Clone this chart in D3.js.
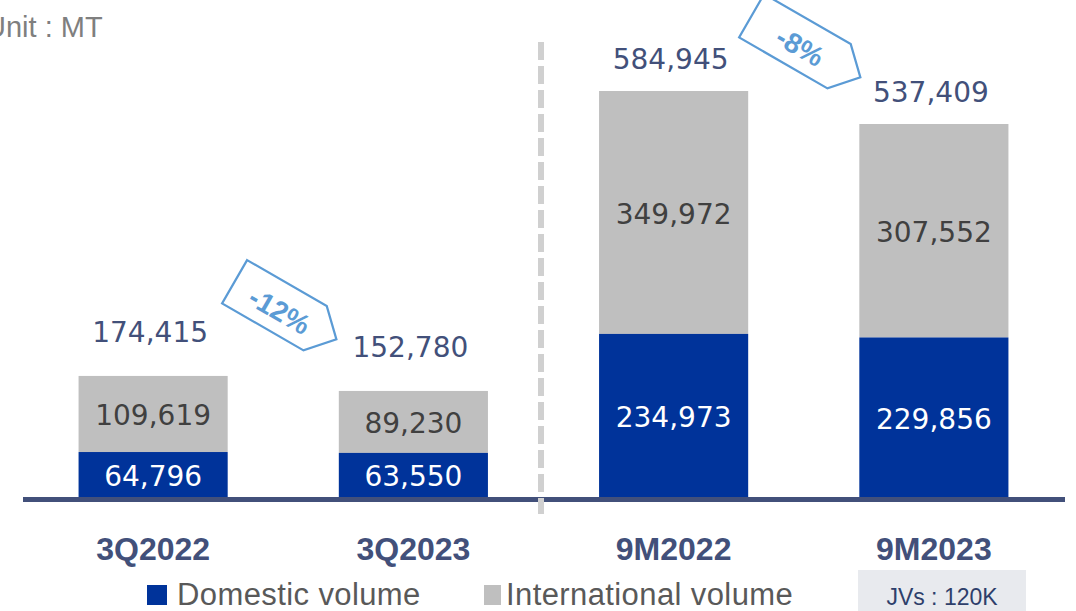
<!DOCTYPE html>
<html>
<head>
<meta charset="utf-8">
<script src="https://cdn.jsdelivr.net/npm/d3@7"></script>
<style>
  html, body { margin: 0; padding: 0; background: #ffffff; }
  svg { display: block; font-family: "Liberation Sans", Arial, sans-serif; }
</style>
</head>
<body>
<svg id="chart" width="1076" height="611"></svg>
<script>
// ---- data ----
const categories = ["3Q2022", "3Q2023", "9M2022", "9M2023"];
const domestic = [64796, 63550, 234973, 229856];
const international = [109619, 89230, 349972, 307552];
const totals = [174415, 152780, 584945, 537409];
const seriesNames = ["Domestic volume", "International volume"];
const unitLabel = "Unit : MT";
const jvLabel = "JVs : 120K";
const comparePairs = [[0, 1], [2, 3]];

// ---- styles ----
const colDomestic = "#00339a";
const colIntl = "#bfbfbf";
const colNavy = "#42507a";
const colTag = "#5b9bd5";
const numFont = "'DejaVu Sans', sans-serif";

const svg = d3.select("#chart");
const fmt = d3.format(",");

const x = d3.scaleBand().domain(categories).range([23, 1064])
  .paddingInner(0.427).paddingOuter(0.2135);
const y = d3.scaleLinear().domain([0, d3.max(totals)]).range([497, 91]);

const rows = categories.map((c, i) => ({ c, i, d: domestic[i], n: international[i], t: totals[i] }));

// unit label
svg.append("text").attr("x", -15).attr("y", 37)
  .attr("font-size", 29).attr("fill", "#7f7f7f").text(unitLabel);

// international segment
svg.selectAll(".intl").data(rows).enter().append("rect")
  .attr("x", r => x(r.c)).attr("width", x.bandwidth())
  .attr("y", r => y(r.d + r.n)).attr("height", r => y(r.d) - y(r.d + r.n))
  .attr("fill", colIntl);

// domestic segment
svg.selectAll(".dom").data(rows).enter().append("rect")
  .attr("x", r => x(r.c)).attr("width", x.bandwidth())
  .attr("y", r => y(r.d)).attr("height", r => y(0) - y(r.d))
  .attr("fill", colDomestic);

// axis baseline
svg.append("line").attr("x1", 23).attr("x2", 1065)
  .attr("y1", y(0) + 2.5).attr("y2", y(0) + 2.5)
  .attr("stroke", colNavy).attr("stroke-width", 5);

// dashed separator
const sepX = (x(categories[1]) + x.bandwidth() + x(categories[2])) / 2 - 2.5;
svg.append("line").attr("x1", sepX).attr("x2", sepX)
  .attr("y1", 42).attr("y2", 514)
  .attr("stroke", "#d0d0d0").attr("stroke-width", 6)
  .attr("stroke-dasharray", "18,6");

// segment labels
svg.selectAll(".intlLbl").data(rows).enter().append("text")
  .attr("x", r => x(r.c) + x.bandwidth() / 2)
  .attr("y", r => (y(r.d + r.n) + y(r.d)) / 2 + 2)
  .attr("text-anchor", "middle").attr("dominant-baseline", "central")
  .attr("font-family", numFont).attr("font-size", 28)
  .attr("fill", "#404040").text(r => fmt(r.n));

svg.selectAll(".domLbl").data(rows).enter().append("text")
  .attr("x", r => x(r.c) + x.bandwidth() / 2)
  .attr("y", r => (y(r.d) + y(0)) / 2 + 2)
  .attr("text-anchor", "middle").attr("dominant-baseline", "central")
  .attr("font-family", numFont).attr("font-size", 28)
  .attr("fill", "#ffffff").text(r => fmt(r.d));

// total labels
svg.selectAll(".totLbl").data(rows).enter().append("text")
  .attr("x", r => x(r.c) + x.bandwidth() / 2 - 3)
  .attr("y", r => y(r.t) - (r.i < 2 ? 34 : 22))
  .attr("text-anchor", "middle")
  .attr("font-family", numFont).attr("font-size", 28)
  .attr("fill", colNavy).text(r => fmt(r.t));

// category labels
svg.selectAll(".cat").data(rows).enter().append("text")
  .attr("x", r => x(r.c) + x.bandwidth() / 2)
  .attr("y", 560)
  .attr("text-anchor", "middle").attr("font-weight", "bold")
  .attr("font-size", 32).attr("fill", colNavy).text(r => r.c);

// change tags
const tagLayouts = [
  { cy: 311, len: 92 },
  { cy: 47, len: 100 }
];
comparePairs.forEach((p, k) => {
  const a = totals[p[0]], b = totals[p[1]];
  const pct = Math.round((b - a) / a * 100);
  const cx = (x(categories[p[0]]) + x(categories[p[1]]) + x.bandwidth()) / 2 + 2;
  const L = tagLayouts[k].len;
  const pts = [[0, 0], [L, 0], [L + 25, 24], [L + 2, 50], [0, 50]];
  const g = svg.append("g")
    .attr("transform", `translate(${cx},${tagLayouts[k].cy}) rotate(30) translate(${-(L + 25) / 2},-25)`);
  g.append("polygon").attr("points", pts.map(q => q.join(",")).join(" "))
    .attr("fill", "#ffffff").attr("stroke", colTag).attr("stroke-width", 2.2);
  g.append("text").attr("x", (L + 25) / 2 - 5).attr("y", 28)
    .attr("text-anchor", "middle").attr("dominant-baseline", "central")
    .attr("font-size", 28).attr("font-weight", "bold").attr("fill", colTag)
    .text(`${pct}%`);
});

// legend
const legend = [
  { name: seriesNames[0], color: colDomestic, sx: 147, tx: 177, sw: 20 },
  { name: seriesNames[1], color: colIntl, sx: 484, tx: 506, sw: 17 }
];
legend.forEach(l => {
  svg.append("rect").attr("x", l.sx).attr("y", 585).attr("width", l.sw).attr("height", 20).attr("fill", l.color);
  svg.append("text").attr("x", l.tx).attr("y", 605)
    .attr("font-size", 31).attr("letter-spacing", 0.4).attr("fill", "#595959").text(l.name);
});

// JVs box
svg.append("rect").attr("x", 858).attr("y", 570).attr("width", 168).attr("height", 45).attr("fill", "#e8eaee");
svg.append("text").attr("x", 942).attr("y", 605).attr("text-anchor", "middle")
  .attr("font-size", 23).attr("fill", "#2e3f6b").text(jvLabel);
</script>
</body>
</html>
